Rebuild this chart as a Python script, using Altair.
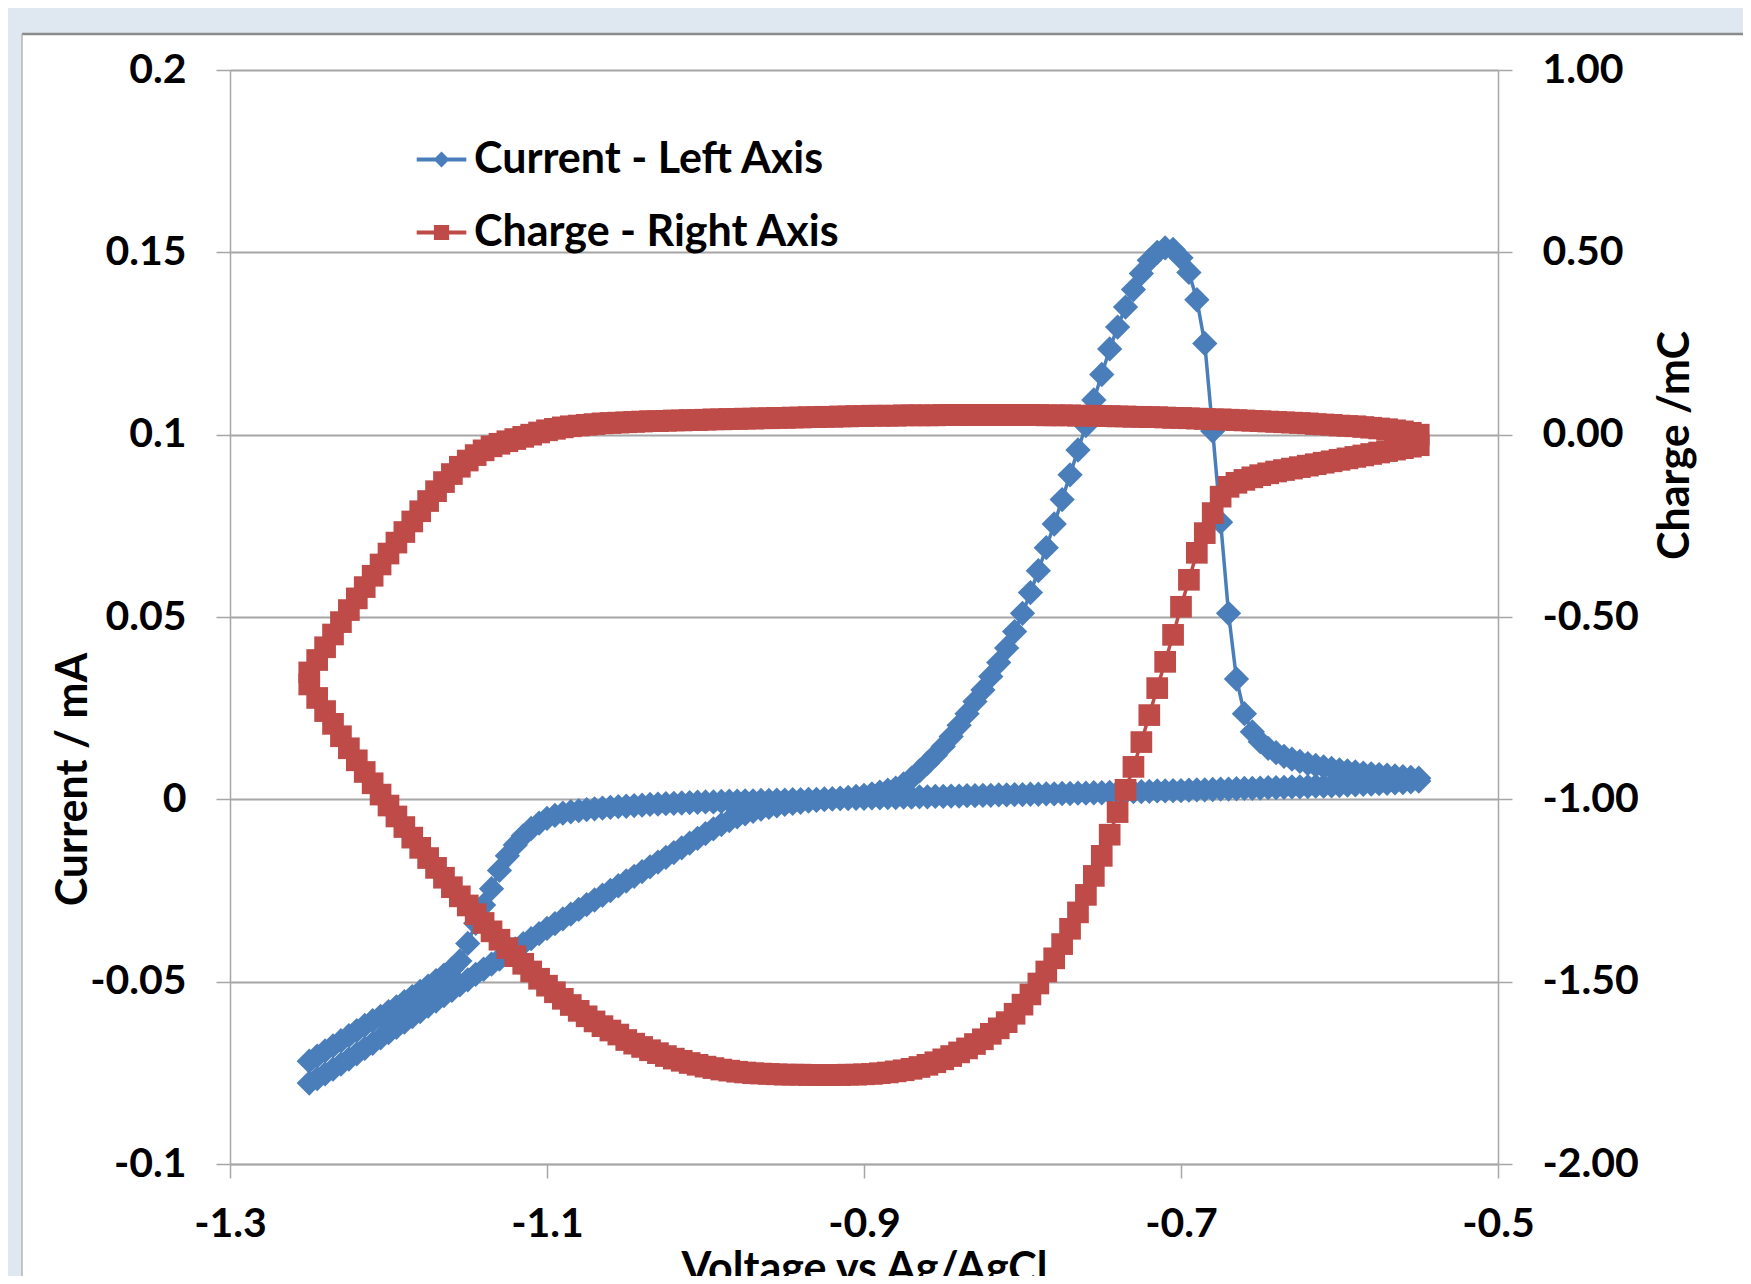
import altair as alt
import pandas as pd

# ---------------- data ----------------
# cathodic sweep (-0.55 V -> -1.25 V), 5 mV steps
voltage_cathodic = [
    -0.550, -0.555, -0.560, -0.565, -0.570, -0.575, -0.580, -0.585, -0.590, -0.595,
    -0.600, -0.605, -0.610, -0.615, -0.620, -0.625, -0.630, -0.635, -0.640, -0.645,
    -0.650, -0.655, -0.660, -0.665, -0.670, -0.675, -0.680, -0.685, -0.690, -0.695,
    -0.700, -0.705, -0.710, -0.715, -0.720, -0.725, -0.730, -0.735, -0.740, -0.745,
    -0.750, -0.755, -0.760, -0.765, -0.770, -0.775, -0.780, -0.785, -0.790, -0.795,
    -0.800, -0.805, -0.810, -0.815, -0.820, -0.825, -0.830, -0.835, -0.840, -0.845,
    -0.850, -0.855, -0.860, -0.865, -0.870, -0.875, -0.880, -0.885, -0.890, -0.895,
    -0.900, -0.905, -0.910, -0.915, -0.920, -0.925, -0.930, -0.935, -0.940, -0.945,
    -0.950, -0.955, -0.960, -0.965, -0.970, -0.975, -0.980, -0.985, -0.990, -0.995,
    -1.000, -1.005, -1.010, -1.015, -1.020, -1.025, -1.030, -1.035, -1.040, -1.045,
    -1.050, -1.055, -1.060, -1.065, -1.070, -1.075, -1.080, -1.085, -1.090, -1.095,
    -1.100, -1.105, -1.110, -1.115, -1.120, -1.125, -1.130, -1.135, -1.140, -1.145,
    -1.150, -1.155, -1.160, -1.165, -1.170, -1.175, -1.180, -1.185, -1.190, -1.195,
    -1.200, -1.205, -1.210, -1.215, -1.220, -1.225, -1.230, -1.235, -1.240, -1.245,
    -1.250,
]
current_cathodic = [
    0.0050, 0.0048, 0.0046, 0.0045, 0.0044, 0.0043, 0.0042, 0.0041, 0.0040, 0.0039,
    0.0038, 0.0037, 0.0036, 0.0036, 0.0035, 0.0034, 0.0034, 0.0033, 0.0032, 0.0032,
    0.0031, 0.0030, 0.0030, 0.0029, 0.0028, 0.0028, 0.0027, 0.0026, 0.0026, 0.0025,
    0.0024, 0.0024, 0.0023, 0.0023, 0.0022, 0.0021, 0.0021, 0.0020, 0.0019, 0.0019,
    0.0018, 0.0018, 0.0017, 0.0017, 0.0016, 0.0016, 0.0015, 0.0015, 0.0014, 0.0014,
    0.0013, 0.0013, 0.0012, 0.0012, 0.0011, 0.0011, 0.0010, 0.0010, 0.0009, 0.0009,
    0.0008, 0.0008, 0.0007, 0.0007, 0.0006, 0.0006, 0.0005, 0.0005, 0.0004, 0.0004,
    0.0003, 0.0003, 0.0002, 0.0002, 0.0001, 0.0001, 0.0000, 0.0000, -0.0001, -0.0001,
    -0.0002, -0.0002, -0.0003, -0.0003, -0.0004, -0.0004, -0.0005, -0.0005, -0.0006, -0.0007,
    -0.0007, -0.0008, -0.0009, -0.0010, -0.0011, -0.0012, -0.0013, -0.0014, -0.0016, -0.0017,
    -0.0019, -0.0020, -0.0022, -0.0024, -0.0026, -0.0028, -0.0031, -0.0034, -0.0038, -0.0044,
    -0.0052, -0.0065, -0.0080, -0.0100, -0.0125, -0.0155, -0.0195, -0.0245, -0.0290, -0.0340,
    -0.0395, -0.0443, -0.0465, -0.0482, -0.0497, -0.0512, -0.0527, -0.0541, -0.0555, -0.0569,
    -0.0582, -0.0595, -0.0607, -0.0620, -0.0634, -0.0648, -0.0662, -0.0676, -0.0690, -0.0704,
    -0.0718,
]
charge_cathodic = [
    0.000, 0.005, 0.009, 0.012, 0.015, 0.017, 0.019, 0.021, 0.023, 0.024,
    0.025, 0.027, 0.028, 0.029, 0.031, 0.032, 0.033, 0.034, 0.035, 0.036,
    0.037, 0.038, 0.039, 0.040, 0.041, 0.042, 0.042, 0.043, 0.044, 0.045,
    0.046, 0.046, 0.047, 0.048, 0.048, 0.049, 0.049, 0.050, 0.050, 0.051,
    0.051, 0.052, 0.052, 0.052, 0.053, 0.053, 0.053, 0.053, 0.054, 0.054,
    0.054, 0.054, 0.054, 0.054, 0.054, 0.054, 0.054, 0.054, 0.054, 0.054,
    0.054, 0.053, 0.053, 0.053, 0.053, 0.053, 0.052, 0.052, 0.052, 0.052,
    0.051, 0.051, 0.050, 0.050, 0.049, 0.049, 0.048, 0.048, 0.047, 0.047,
    0.046, 0.046, 0.045, 0.045, 0.044, 0.044, 0.043, 0.043, 0.042, 0.042,
    0.041, 0.040, 0.040, 0.039, 0.039, 0.038, 0.037, 0.037, 0.036, 0.035,
    0.034, 0.033, 0.032, 0.031, 0.029, 0.027, 0.025, 0.023, 0.020, 0.016,
    0.012, 0.006, 0.000, -0.006, -0.012, -0.018, -0.025, -0.032, -0.043, -0.056,
    -0.071, -0.088, -0.108, -0.130, -0.155, -0.182, -0.210, -0.238, -0.267, -0.296,
    -0.326, -0.356, -0.387, -0.418, -0.449, -0.481, -0.514, -0.548, -0.583, -0.618,
    -0.652,
]
# anodic sweep (-1.25 V -> -0.55 V), same potentials in reverse order
voltage_anodic = list(reversed(voltage_cathodic))
current_anodic = [
    -0.0778, -0.0766, -0.0753, -0.0740, -0.0726, -0.0712, -0.0698, -0.0683, -0.0669, -0.0654,
    -0.0640, -0.0625, -0.0611, -0.0596, -0.0582, -0.0567, -0.0553, -0.0538, -0.0524, -0.0509,
    -0.0495, -0.0480, -0.0466, -0.0452, -0.0438, -0.0424, -0.0410, -0.0396, -0.0382, -0.0368,
    -0.0354, -0.0341, -0.0328, -0.0315, -0.0302, -0.0289, -0.0276, -0.0263, -0.0250, -0.0237,
    -0.0224, -0.0211, -0.0198, -0.0185, -0.0172, -0.0159, -0.0146, -0.0133, -0.0120, -0.0107,
    -0.0094, -0.0081, -0.0069, -0.0058, -0.0048, -0.0040, -0.0033, -0.0027, -0.0022, -0.0018,
    -0.0014, -0.0011, -0.0008, -0.0005, -0.0003, -0.0001, 0.0001, 0.0003, 0.0005, 0.0008,
    0.0011, 0.0015, 0.0020, 0.0025, 0.0031, 0.0042, 0.0058, 0.0078, 0.0099, 0.0121,
    0.0145, 0.0172, 0.0203, 0.0235, 0.0268, 0.0300, 0.0337, 0.0375, 0.0415, 0.0460,
    0.0510, 0.0567, 0.0627, 0.0690, 0.0755, 0.0822, 0.0890, 0.0958, 0.1025, 0.1095,
    0.1165, 0.1235, 0.1295, 0.1350, 0.1398, 0.1442, 0.1478, 0.1500, 0.1512, 0.1508,
    0.1485, 0.1445, 0.1370, 0.1250, 0.1010, 0.0760, 0.0510, 0.0330, 0.0235, 0.0185,
    0.0158, 0.0140, 0.0128, 0.0118, 0.0110, 0.0104, 0.0098, 0.0093, 0.0089, 0.0085,
    0.0081, 0.0078, 0.0075, 0.0072, 0.0070, 0.0068, 0.0066, 0.0064, 0.0062, 0.0060,
    0.0058,
]
charge_anodic = [
    -0.685, -0.722, -0.758, -0.793, -0.827, -0.860, -0.893, -0.925, -0.956, -0.987,
    -1.017, -1.047, -1.076, -1.105, -1.133, -1.161, -1.188, -1.215, -1.241, -1.266,
    -1.291, -1.315, -1.339, -1.362, -1.385, -1.408, -1.430, -1.451, -1.472, -1.492,
    -1.511, -1.529, -1.547, -1.564, -1.580, -1.595, -1.609, -1.622, -1.634, -1.645,
    -1.660, -1.670, -1.679, -1.688, -1.696, -1.704, -1.711, -1.717, -1.723, -1.728,
    -1.733, -1.737, -1.741, -1.744, -1.747, -1.749, -1.751, -1.752, -1.753, -1.754,
    -1.755, -1.755, -1.755, -1.756, -1.756, -1.756, -1.756, -1.756, -1.755, -1.755,
    -1.754, -1.753, -1.751, -1.749, -1.746, -1.743, -1.739, -1.734, -1.728, -1.721,
    -1.713, -1.704, -1.694, -1.683, -1.671, -1.658, -1.643, -1.628, -1.611, -1.588,
    -1.563, -1.535, -1.505, -1.472, -1.436, -1.397, -1.355, -1.310, -1.262, -1.210,
    -1.155, -1.097, -1.035, -0.974, -0.911, -0.843, -0.769, -0.695, -0.623, -0.549,
    -0.472, -0.398, -0.324, -0.270, -0.215, -0.170, -0.143, -0.132, -0.124, -0.117,
    -0.111, -0.106, -0.101, -0.097, -0.093, -0.089, -0.085, -0.081, -0.077, -0.073,
    -0.069, -0.065, -0.061, -0.057, -0.053, -0.049, -0.045, -0.041, -0.037, -0.033,
    -0.029,
]

series_names = ["Current - Left Axis", "Charge - Right Axis"]
x_ticks = [-1.3, -1.1, -0.9, -0.7, -0.5]
current_ticks = [-0.1, -0.05, 0, 0.05, 0.1, 0.15, 0.2]
charge_ticks = [-2.0, -1.5, -1.0, -0.5, 0.0, 0.5, 1.0]

voltage_all = voltage_cathodic + voltage_anodic
current_all = current_cathodic + current_anodic
charge_all = charge_cathodic + charge_anodic
assert len(voltage_all) == len(current_all) == len(charge_all)
df = pd.DataFrame({
    "V": voltage_all,
    "I": current_all,
    "Q": charge_all,
    "idx": list(range(len(voltage_all))),
})

# ---------------- styling ----------------
W, H = 1268, 1094
BLUE = "#4A7EBB"
RED = "#BE4B48"
GRID = "#A6A6A6"
PAGE_BG = "#DFE7F1"
FONT = "Lato"

x_enc = alt.X(
    "V:Q",
    scale=alt.Scale(domain=[-1.3, -0.5], nice=False, zero=False),
    axis=alt.Axis(
        values=x_ticks,
        labelExpr="(datum.value < 0 ? '-' : '') + format(abs(datum.value), '.1f')",
        labelFlush=False,
        title="Voltage vs Ag/AgCl",
        grid=False,
        tickSize=14,
        labelPadding=26,
        titleX=W / 2,
        titleY=84,
        titleBaseline="top",
        titleAlign="center",
    ),
)
y_cur = alt.Y(
    "I:Q",
    scale=alt.Scale(domain=[-0.1, 0.2], nice=False, zero=False),
    axis=alt.Axis(
        orient="left",
        values=current_ticks,
        labelExpr="(datum.value < 0 ? '-' : '') + format(abs(datum.value), '.2~f')",
        labelFlush=False,
        grid=True,
        gridColor=GRID,
        gridWidth=2,
        tickSize=14,
        labelPadding=30,
        title="Current / mA",
        titleAngle=270,
        titleX=-157,
        titleY=709,
        titleBaseline="middle",
        titleAlign="center",
    ),
)
y_chg = alt.Y(
    "Q:Q",
    scale=alt.Scale(domain=[-2.0, 1.0], nice=False, zero=False),
    axis=alt.Axis(
        orient="right",
        values=charge_ticks,
        labelExpr="(datum.value < 0 ? '-' : '') + format(abs(datum.value), '.2f')",
        labelFlush=False,
        grid=False,
        tickSize=14,
        labelPadding=30,
        title="Charge /mC",
        titleAngle=270,
        titleX=177,
        titleY=375,
        titleBaseline="middle",
        titleAlign="center",
    ),
)

base = alt.Chart(df)
order = alt.Order("idx:Q")

cur_line = base.mark_line(color=BLUE, strokeWidth=3.5).encode(x=x_enc, y=y_cur, order=order)
cur_pts = base.mark_point(shape="diamond", filled=True, size=640, color=BLUE, opacity=1).encode(x=x_enc, y=y_cur)
chg_line = base.mark_line(color=RED, strokeWidth=3.5).encode(x=x_enc, y=y_chg, order=order)
chg_pts = base.mark_point(shape="square", filled=True, size=470, color=RED, opacity=1).encode(x=x_enc, y=y_chg)

current_layer = alt.layer(cur_line, cur_pts)
charge_layer = alt.layer(chg_line, chg_pts)

# legend (line + marker symbols)
diamond_path = "M-3.1,-0.24H3.1V0.24H-3.1Z M-1,0L0,-1L1,0L0,1Z"
square_path = "M-3.1,-0.24H3.1V0.24H-3.1Z M-0.95,-0.95H0.95V0.95H-0.95Z"
legend_def = alt.Legend(orient="none", legendX=190, legendY=68, title=None)
legend_layer = (
    alt.Chart(df)
    .transform_filter("false")
    .transform_calculate(series="'x'")
    .mark_point(filled=True, opacity=1)
    .encode(
        color=alt.Color("series:N", scale=alt.Scale(domain=series_names, range=[BLUE, RED]), legend=legend_def),
        shape=alt.Shape("series:N", scale=alt.Scale(domain=series_names, range=[diamond_path, square_path]), legend=legend_def),
    )
)

# page background framing (outside plot area)
one = alt.Data(values=[{}])
top_strip = alt.Chart(one).mark_rect(color=PAGE_BG).encode(
    x=alt.value(-240), x2=alt.value(W + 260), y=alt.value(-80), y2=alt.value(-37))
left_strip = alt.Chart(one).mark_rect(color=PAGE_BG).encode(
    x=alt.value(-240), x2=alt.value(-208), y=alt.value(-80), y2=alt.value(H + 130))
top_border = alt.Chart(one).mark_rule(color="#8C8C8C", strokeWidth=2.5).encode(
    x=alt.value(-208), x2=alt.value(W + 260), y=alt.value(-36))
left_border = alt.Chart(one).mark_rule(color="#B4B4B4", strokeWidth=1.5).encode(
    x=alt.value(-208), y=alt.value(-36), y2=alt.value(H + 130))

chart = (
    alt.layer(top_strip, left_strip, top_border, left_border,
              current_layer, charge_layer, legend_layer)
    .resolve_scale(y="independent")
    .properties(
        width=W,
        height=H,
        autosize=alt.AutoSizeParams(type="none"),
        padding={"left": 222, "top": 62, "right": 245, "bottom": 112},
        background="white",
    )
    .configure_view(stroke=None)
    .configure_axis(
        domainColor=GRID,
        domainWidth=1.5,
        tickColor=GRID,
        tickWidth=1.5,
        labelFont=FONT,
        labelFontSize=41,
        labelFontWeight="bold",
        labelColor="black",
        titleFont=FONT,
        titleFontSize=43,
        titleFontWeight="bold",
        titleColor="black",
    )
    .configure_legend(
        labelFont=FONT,
        labelFontSize=43,
        labelFontWeight="bold",
        labelColor="black",
        labelLimit=0,
        labelOffset=11,
        symbolSize=256,
        symbolStrokeWidth=0,
        symbolOpacity=1,
        rowPadding=29,
        padding=0,
    )
)

chart.save("out.html", embed_options={"renderer": "svg", "actions": False})
